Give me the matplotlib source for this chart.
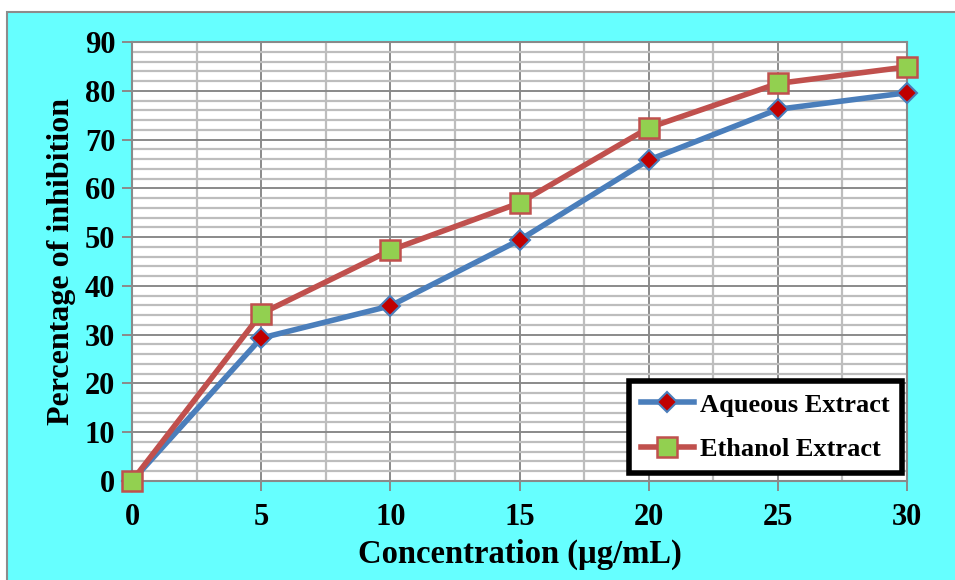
import matplotlib
matplotlib.use("Agg")
import matplotlib.pyplot as plt
from matplotlib.patches import Rectangle
from matplotlib.ticker import MultipleLocator

concentration = [0, 5, 10, 15, 20, 25, 30]
aqueous = [0, 29.3, 35.9, 49.4, 65.8, 76.2, 79.6]
ethanol = [0, 34.3, 47.3, 57.0, 72.4, 81.5, 84.9]

plt.rcParams['font.family'] = ['Liberation Serif', 'DejaVu Serif']
plt.rcParams['font.weight'] = 'bold'

fig = plt.figure(figsize=(9.55, 5.8), dpi=100)
fig.patch.set_facecolor('white')

# cyan chart-area panel, kept behind the plot axes
panel = Rectangle((7 / 955, -0.05), 1.1, 1.05 - 12 / 580, transform=fig.transFigure,
                  facecolor='#66FFFF', edgecolor='#8C8C8C', linewidth=1.5, zorder=-5)
fig.patches.append(panel)

ax = fig.add_axes([132 / 955, 99 / 580, 775 / 955, 439 / 580])
ax.set_zorder(1)
ax.set_facecolor('white')
ax.set_xlim(0, 30)
ax.set_ylim(0, 90)

ax.xaxis.set_major_locator(MultipleLocator(5))
ax.xaxis.set_minor_locator(MultipleLocator(2.5))
ax.yaxis.set_major_locator(MultipleLocator(10))
ax.yaxis.set_minor_locator(MultipleLocator(2))

ax.grid(which='minor', color='#BDBDBD', linewidth=1.6, zorder=1)
ax.grid(which='major', color='#8A8A8A', linewidth=1.4, zorder=1)
ax.set_axisbelow(True)

for side in ['left', 'top', 'right', 'bottom']:
    ax.spines[side].set_color('#8A8A8A')
    ax.spines[side].set_linewidth(1.5)

ax.tick_params(which='major', length=7, width=1.4, color='#8A8A8A',
               labelsize=22, pad=5)
ax.tick_params(which='minor', length=0)
ax.tick_params(axis='x', pad=9)
for lab in ax.get_xticklabels() + ax.get_yticklabels():
    lab.set_fontweight('bold')

ax.plot(concentration, aqueous, color='#4A7EBB', linewidth=4, marker='D',
        markersize=10, markerfacecolor='#C00000', markeredgecolor='#4A7EBB',
        markeredgewidth=1.5, label='Aqueous Extract', zorder=3, clip_on=False)
ax.plot(concentration, ethanol, color='#C0504D', linewidth=4, marker='s',
        markersize=14, markerfacecolor='#92D050', markeredgecolor='#C0504D',
        markeredgewidth=1.8, label='Ethanol Extract', zorder=4, clip_on=False)

ax.set_xlabel('Concentration (µg/mL)', fontsize=23.5, fontweight='bold', labelpad=5)
ax.set_ylabel('Percentage of inhibition', fontsize=23, fontweight='bold', labelpad=6)

leg = ax.legend(loc='lower right', bbox_to_anchor=(0.9935, 0.018), fontsize=19,
                frameon=True, fancybox=False, handlelength=2.0, handletextpad=0.25,
                borderpad=0.45, labelspacing=0.8, borderaxespad=0)
leg.get_frame().set_edgecolor('black')
leg.get_frame().set_linewidth(4)
leg.get_frame().set_facecolor('white')
leg.get_frame().set_alpha(1)
for t in leg.get_texts():
    t.set_fontweight('bold')

fig.savefig('out.png', dpi=100)
